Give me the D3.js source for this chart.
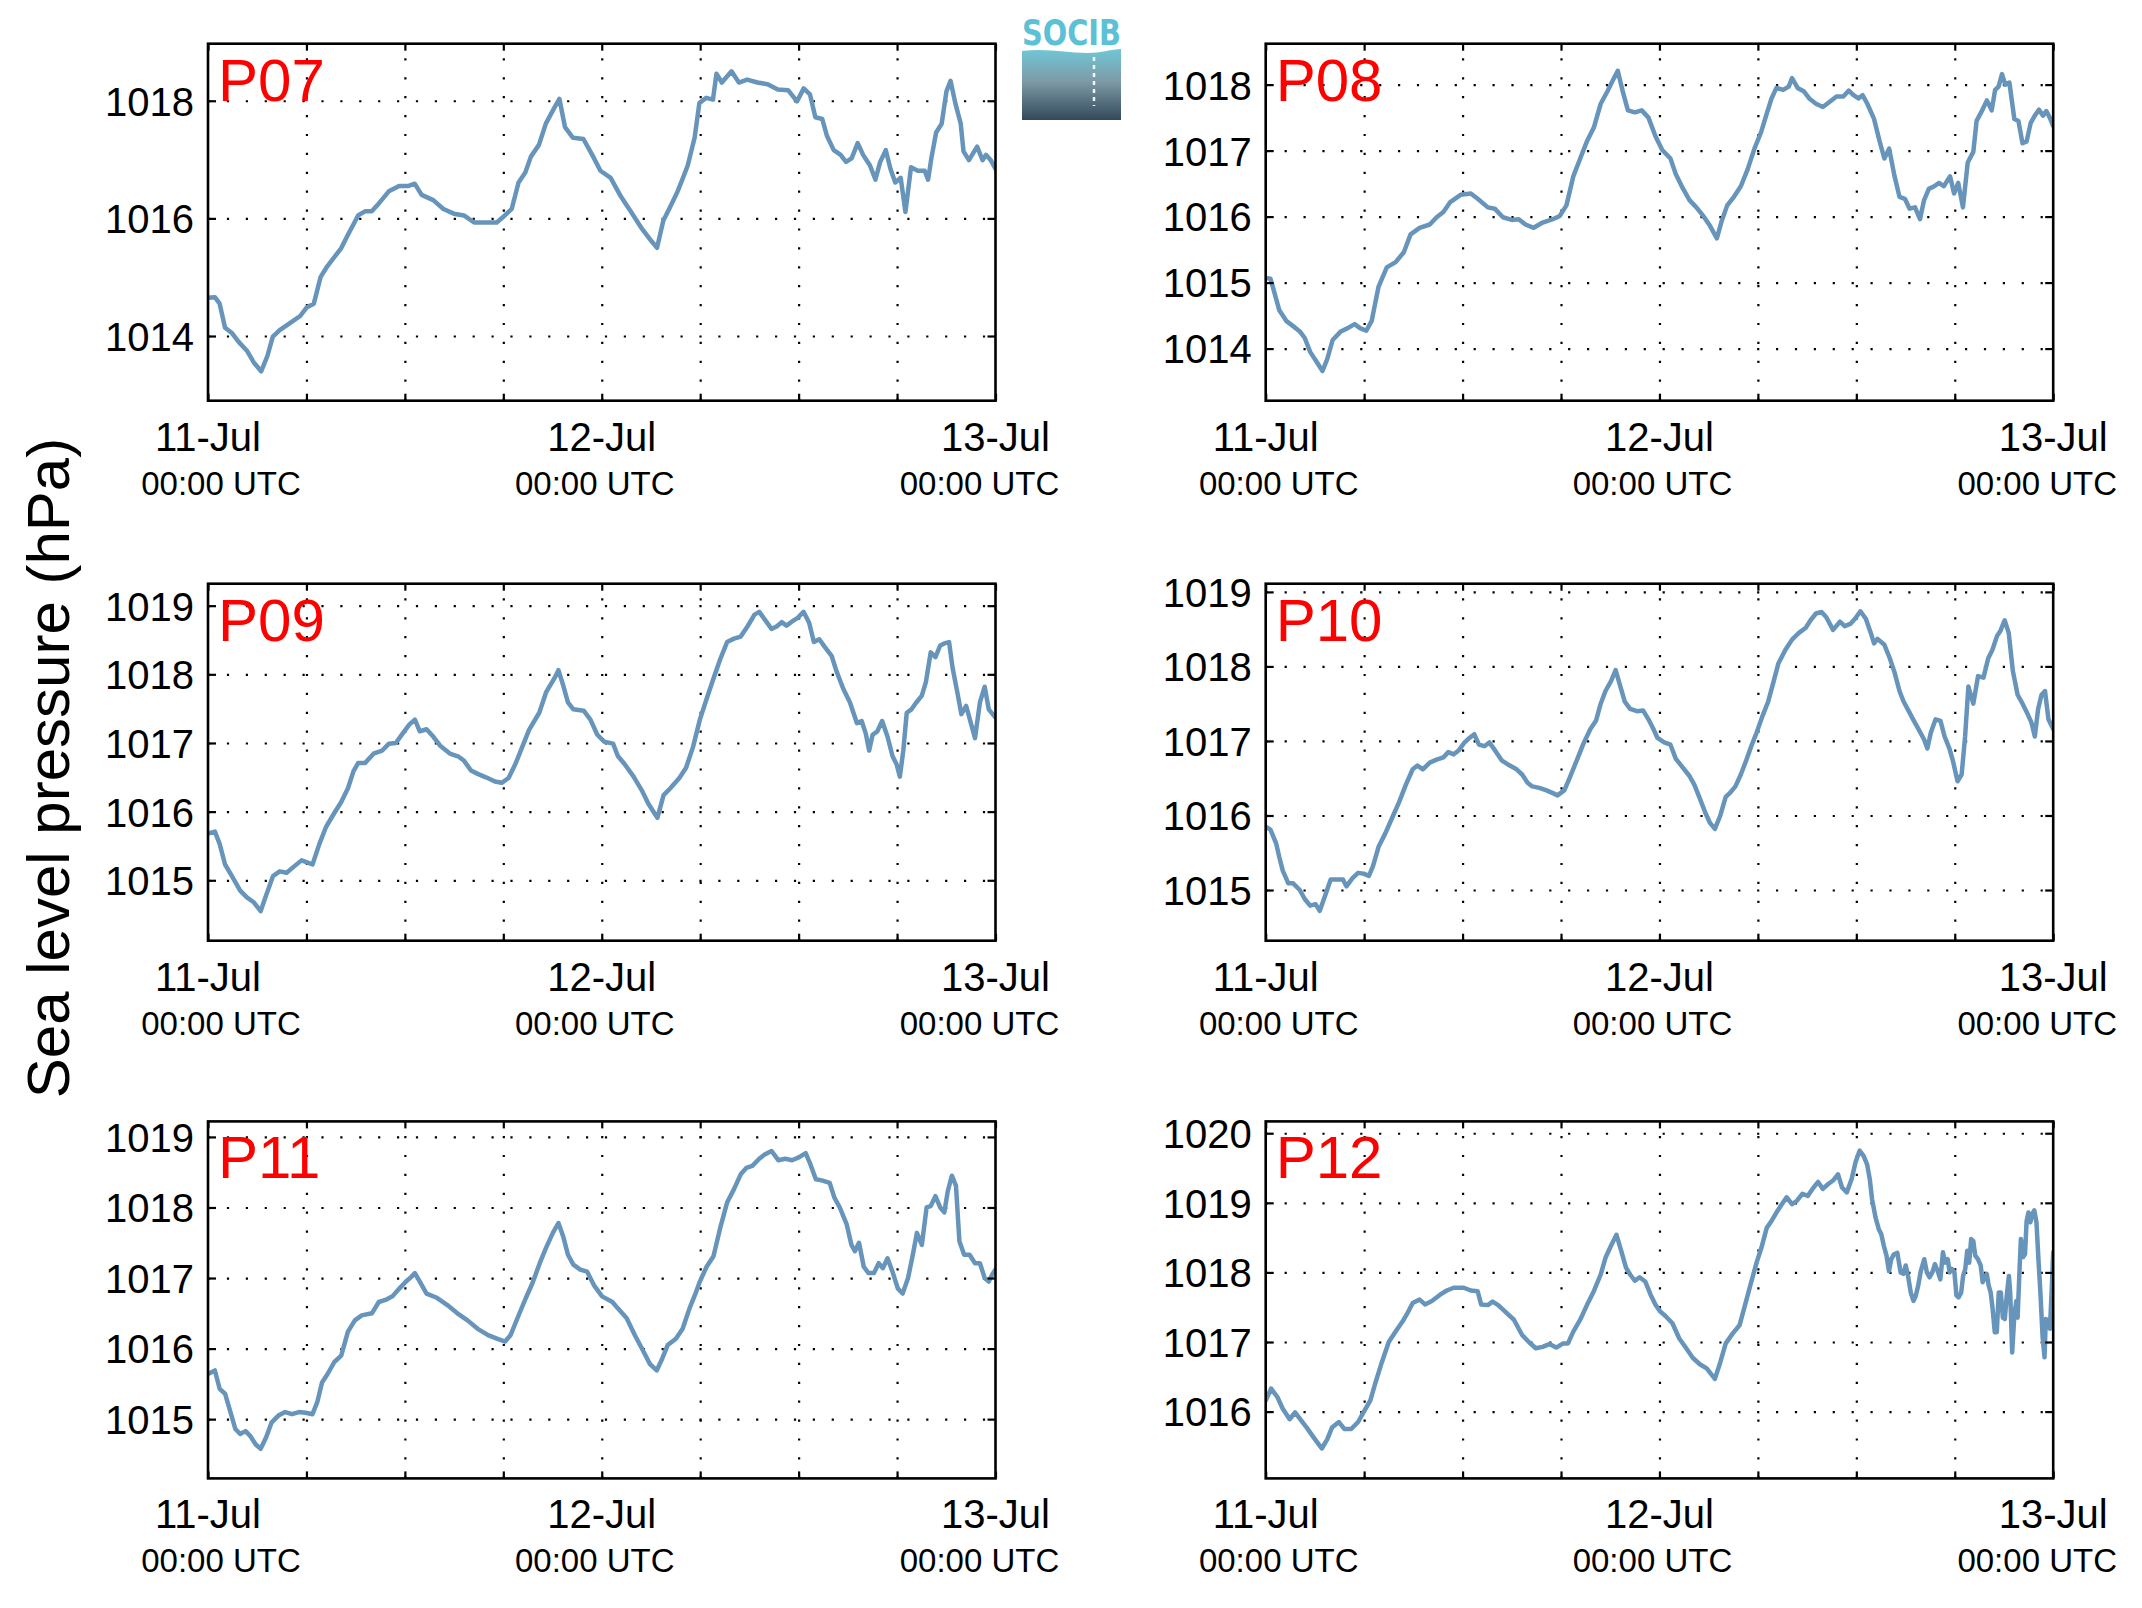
<!DOCTYPE html>
<html><head><meta charset="utf-8">
<script src="https://cdn.jsdelivr.net/npm/d3@7"></script>
<style>body{margin:0;background:#fff} svg{display:block}</style>
</head><body>
<svg id="chart" width="2142" height="1608"></svg>
<script>
// ---------------- DATA ----------------
const panelNames = ["P07","P08","P09","P10","P11","P12"];
const dayLabels = ["11-Jul","12-Jul","13-Jul"];
const dayHours = [0,24,48];
const timeLabel = "00:00 UTC";
const gridHours = [6,12,18,24,30,36,42];
const yAxisTitle = "Sea level pressure (hPa)";
const yDomains = [[1012.9,1018.97],[1013.21,1018.62],[1014.12,1019.32],[1014.32,1019.11],[1014.16,1019.22],[1015.04,1020.17]];
const yTickValues = [[1014,1016,1018],[1014,1015,1016,1017,1018],[1015,1016,1017,1018,1019],[1015,1016,1017,1018,1019],[1015,1016,1017,1018,1019],[1016,1017,1018,1019,1020]];

// [hours since 11-Jul 00:00 UTC, hPa]
const seriesP07 = [[0,1014.65],[0.42,1014.66],[0.71,1014.55],[1.04,1014.14],[1.46,1014.05],[1.87,1013.9],[2.37,1013.75],[2.79,1013.55],[3.24,1013.40],[3.62,1013.66],[3.95,1013.99],[4.37,1014.1],[4.99,1014.22],[5.62,1014.34],[6.03,1014.49],[6.45,1014.55],[6.86,1015.0],[7.28,1015.19],[7.70,1015.34],[8.11,1015.49],[8.53,1015.72],[9.15,1016.05],[9.57,1016.12],[9.98,1016.12],[10.40,1016.25],[11.02,1016.46],[11.65,1016.55],[12.19,1016.55],[12.60,1016.59],[13.02,1016.40],[13.73,1016.31],[14.35,1016.16],[14.98,1016.08],[15.60,1016.05],[16.22,1015.93],[16.85,1015.93],[17.60,1015.93],[18.09,1016.05],[18.51,1016.16],[18.93,1016.61],[19.34,1016.78],[19.68,1017.05],[20.17,1017.25],[20.59,1017.61],[21.09,1017.87],[21.42,1018.03],[21.76,1017.55],[22.25,1017.37],[22.88,1017.35],[23.42,1017.08],[23.92,1016.81],[24.54,1016.69],[25.17,1016.37],[25.79,1016.11],[26.41,1015.84],[27.04,1015.61],[27.37,1015.5],[27.75,1015.96],[28.16,1016.19],[28.58,1016.43],[28.91,1016.66],[29.24,1016.9],[29.66,1017.37],[29.95,1017.96],[30.37,1018.05],[30.78,1018.02],[30.99,1018.46],[31.32,1018.31],[31.91,1018.5],[32.36,1018.31],[32.86,1018.36],[33.49,1018.31],[34.11,1018.28],[34.73,1018.19],[35.36,1018.18],[35.90,1017.99],[36.31,1018.21],[36.69,1018.11],[37.02,1017.72],[37.44,1017.69],[37.73,1017.4],[38.14,1017.16],[38.56,1017.08],[38.89,1016.96],[39.23,1017.02],[39.60,1017.28],[39.93,1017.08],[40.35,1016.9],[40.68,1016.66],[40.97,1016.96],[41.31,1017.16],[41.60,1016.84],[41.89,1016.61],[42.22,1016.69],[42.51,1016.11],[42.85,1016.87],[43.26,1016.81],[43.68,1016.81],[43.89,1016.66],[44.09,1017.02],[44.38,1017.46],[44.72,1017.61],[45.01,1018.16],[45.26,1018.34],[45.55,1017.96],[45.88,1017.61],[46.05,1017.14],[46.38,1016.99],[46.88,1017.22],[47.21,1016.99],[47.42,1017.08],[47.71,1016.99],[48,1016.84]];

const seriesP08 = [[0,1015.07],[0.29,1015.06],[0.54,1014.84],[0.83,1014.58],[1.25,1014.42],[1.67,1014.34],[2.08,1014.26],[2.38,1014.16],[2.71,1013.95],[3.13,1013.79],[3.46,1013.66],[3.75,1013.84],[4.08,1014.13],[4.58,1014.26],[5.0,1014.31],[5.42,1014.37],[5.75,1014.31],[6.13,1014.27],[6.46,1014.42],[6.88,1014.94],[7.38,1015.23],[7.92,1015.31],[8.42,1015.46],[8.83,1015.73],[9.38,1015.83],[10.0,1015.88],[10.42,1015.99],[10.83,1016.07],[11.25,1016.22],[11.88,1016.33],[12.5,1016.35],[12.92,1016.27],[13.54,1016.14],[13.96,1016.12],[14.46,1015.99],[15.0,1015.95],[15.42,1015.96],[15.83,1015.88],[16.33,1015.83],[16.88,1015.91],[17.5,1015.96],[17.92,1016.01],[18.33,1016.17],[18.75,1016.61],[19.17,1016.88],[19.58,1017.14],[20.0,1017.35],[20.42,1017.71],[20.83,1017.90],[21.13,1018.05],[21.46,1018.21],[21.79,1017.87],[22.08,1017.61],[22.5,1017.58],[22.92,1017.61],[23.33,1017.50],[23.75,1017.22],[24.17,1017.01],[24.67,1016.88],[25.0,1016.64],[25.42,1016.43],[25.83,1016.25],[26.25,1016.14],[26.67,1016.01],[27.08,1015.86],[27.5,1015.67],[27.79,1015.93],[28.13,1016.17],[28.54,1016.30],[28.96,1016.46],[29.38,1016.72],[29.79,1017.03],[30.21,1017.29],[30.54,1017.56],[30.83,1017.79],[31.13,1017.95],[31.54,1017.92],[31.88,1017.97],[32.08,1018.10],[32.42,1017.95],[32.79,1017.90],[33.13,1017.79],[33.54,1017.71],[33.96,1017.66],[34.38,1017.74],[34.79,1017.82],[35.21,1017.82],[35.54,1017.91],[35.83,1017.84],[36.13,1017.79],[36.38,1017.84],[36.67,1017.71],[37.08,1017.48],[37.42,1017.14],[37.71,1016.88],[38.0,1017.03],[38.33,1016.61],[38.63,1016.30],[38.96,1016.27],[39.25,1016.12],[39.58,1016.14],[39.88,1015.96],[40.13,1016.25],[40.42,1016.42],[40.75,1016.46],[41.04,1016.51],[41.33,1016.46],[41.71,1016.61],[41.96,1016.35],[42.21,1016.51],[42.5,1016.14],[42.79,1016.82],[43.13,1016.98],[43.33,1017.45],[43.67,1017.61],[43.96,1017.76],[44.25,1017.61],[44.46,1017.92],[44.67,1017.97],[44.88,1018.16],[45.08,1018.00],[45.33,1018.03],[45.63,1017.48],[45.88,1017.45],[46.13,1017.11],[46.38,1017.14],[46.63,1017.42],[46.88,1017.53],[47.13,1017.62],[47.38,1017.53],[47.58,1017.60],[47.79,1017.50],[48,1017.37]];

const seriesP09 = [[0,1015.68],[0.42,1015.71],[0.71,1015.53],[1.04,1015.23],[1.46,1015.06],[1.96,1014.85],[2.37,1014.75],[2.79,1014.68],[3.21,1014.55],[3.54,1014.78],[3.96,1015.06],[4.37,1015.13],[4.79,1015.11],[5.29,1015.21],[5.70,1015.29],[6.04,1015.26],[6.37,1015.23],[6.79,1015.53],[7.20,1015.78],[7.70,1015.98],[8.12,1016.14],[8.53,1016.34],[8.87,1016.59],[9.16,1016.71],[9.58,1016.71],[10.12,1016.85],[10.62,1016.89],[11.03,1016.99],[11.45,1017.0],[11.87,1017.14],[12.28,1017.27],[12.61,1017.34],[12.91,1017.17],[13.32,1017.20],[13.74,1017.09],[14.15,1016.96],[14.78,1016.84],[15.28,1016.80],[15.61,1016.74],[16.03,1016.60],[16.44,1016.55],[16.94,1016.50],[17.49,1016.44],[17.90,1016.42],[18.32,1016.49],[18.73,1016.69],[19.15,1016.94],[19.57,1017.19],[20.19,1017.44],[20.61,1017.74],[21.11,1017.94],[21.36,1018.06],[21.65,1017.84],[21.94,1017.59],[22.27,1017.49],[22.90,1017.47],[23.31,1017.34],[23.73,1017.12],[24.15,1017.02],[24.69,1016.99],[24.98,1016.81],[25.40,1016.69],[25.94,1016.51],[26.44,1016.31],[26.85,1016.11],[27.39,1015.91],[27.77,1016.24],[28.18,1016.34],[28.73,1016.49],[29.14,1016.64],[29.56,1016.94],[29.98,1017.34],[30.39,1017.64],[30.81,1017.94],[31.22,1018.22],[31.64,1018.47],[32.06,1018.52],[32.47,1018.55],[32.89,1018.70],[33.31,1018.87],[33.60,1018.91],[33.93,1018.80],[34.35,1018.66],[34.68,1018.70],[34.97,1018.76],[35.26,1018.71],[35.60,1018.77],[35.93,1018.82],[36.30,1018.91],[36.64,1018.75],[36.93,1018.47],[37.26,1018.51],[37.59,1018.40],[38.01,1018.27],[38.30,1018.05],[38.72,1017.79],[39.13,1017.59],[39.55,1017.29],[39.84,1017.32],[40.09,1017.14],[40.30,1016.89],[40.51,1017.12],[40.80,1017.17],[41.09,1017.32],[41.42,1017.09],[41.72,1016.81],[41.97,1016.69],[42.17,1016.51],[42.38,1016.89],[42.59,1017.44],[42.88,1017.49],[43.17,1017.59],[43.51,1017.69],[43.76,1017.89],[44.05,1018.32],[44.34,1018.25],[44.63,1018.42],[44.88,1018.45],[45.17,1018.47],[45.38,1018.10],[45.67,1017.74],[45.92,1017.42],[46.21,1017.54],[46.50,1017.29],[46.75,1017.07],[47.05,1017.59],[47.34,1017.82],[47.59,1017.49],[48,1017.37]];

const seriesP10 = [[0,1015.85],[0.29,1015.81],[0.63,1015.63],[0.83,1015.44],[1.04,1015.26],[1.38,1015.09],[1.67,1015.09],[2.08,1015.0],[2.38,1014.88],[2.71,1014.79],[3.04,1014.81],[3.29,1014.72],[3.63,1014.93],[3.96,1015.14],[4.38,1015.14],[4.71,1015.14],[4.92,1015.05],[5.29,1015.16],[5.63,1015.23],[5.96,1015.22],[6.29,1015.19],[6.54,1015.32],[6.88,1015.58],[7.29,1015.76],[7.71,1015.97],[8.13,1016.18],[8.54,1016.41],[8.96,1016.62],[9.25,1016.67],[9.58,1016.62],[10.0,1016.71],[10.42,1016.75],[10.83,1016.78],[11.13,1016.85],[11.46,1016.82],[11.79,1016.88],[12.08,1016.97],[12.42,1017.04],[12.71,1017.09],[13.0,1016.95],[13.33,1016.93],[13.63,1016.98],[13.96,1016.88],[14.38,1016.74],[14.88,1016.67],[15.29,1016.62],[15.63,1016.55],[15.96,1016.44],[16.25,1016.39],[16.67,1016.37],[17.08,1016.34],[17.5,1016.30],[17.79,1016.27],[18.21,1016.34],[18.54,1016.51],[18.96,1016.74],[19.38,1016.97],[19.79,1017.16],[20.13,1017.27],[20.42,1017.50],[20.71,1017.67],[21.04,1017.80],[21.33,1017.95],[21.58,1017.76],[21.88,1017.53],[22.21,1017.43],[22.63,1017.40],[23.0,1017.41],[23.33,1017.29],[23.63,1017.16],[23.88,1017.04],[24.29,1016.98],[24.67,1016.95],[25.0,1016.76],[25.33,1016.67],[25.83,1016.53],[26.13,1016.41],[26.46,1016.23],[26.79,1016.04],[27.08,1015.90],[27.38,1015.82],[27.71,1016.0],[28.04,1016.25],[28.33,1016.31],[28.63,1016.39],[28.96,1016.55],[29.29,1016.74],[29.58,1016.92],[29.92,1017.11],[30.29,1017.34],[30.63,1017.53],[30.96,1017.80],[31.25,1018.04],[31.67,1018.22],[32.08,1018.36],[32.5,1018.45],[32.92,1018.52],[33.21,1018.62],[33.54,1018.71],[33.88,1018.73],[34.17,1018.66],[34.58,1018.49],[35.0,1018.60],[35.29,1018.54],[35.63,1018.57],[35.92,1018.64],[36.25,1018.74],[36.58,1018.64],[36.88,1018.45],[37.08,1018.31],[37.29,1018.37],[37.71,1018.29],[38.04,1018.11],[38.33,1017.92],[38.63,1017.67],[38.88,1017.53],[39.17,1017.41],[39.46,1017.29],[39.79,1017.16],[40.13,1017.02],[40.33,1016.90],[40.54,1017.11],[40.83,1017.29],[41.13,1017.27],[41.38,1017.06],[41.67,1016.90],[41.88,1016.74],[42.17,1016.46],[42.42,1016.55],[42.63,1017.06],[42.83,1017.73],[43.13,1017.50],[43.42,1017.87],[43.75,1017.85],[44.04,1018.11],[44.29,1018.22],[44.58,1018.41],[44.79,1018.48],[45.04,1018.62],[45.29,1018.45],[45.54,1017.94],[45.83,1017.62],[46.13,1017.50],[46.38,1017.39],[46.67,1017.25],[46.88,1017.06],[47.08,1017.43],[47.29,1017.62],[47.5,1017.67],[47.71,1017.29],[48,1017.16]];

const seriesP11 = [[0,1015.64],[0.42,1015.69],[0.71,1015.43],[1.04,1015.36],[1.37,1015.10],[1.67,1014.86],[1.96,1014.79],[2.29,1014.83],[2.58,1014.76],[2.91,1014.64],[3.21,1014.58],[3.54,1014.74],[3.87,1014.95],[4.29,1015.05],[4.70,1015.10],[5.12,1015.07],[5.54,1015.10],[5.95,1015.09],[6.37,1015.07],[6.66,1015.24],[6.95,1015.52],[7.29,1015.64],[7.70,1015.81],[8.12,1015.90],[8.53,1016.24],[8.95,1016.40],[9.37,1016.47],[9.99,1016.50],[10.41,1016.66],[10.82,1016.69],[11.24,1016.74],[11.66,1016.85],[12.07,1016.95],[12.41,1017.02],[12.61,1017.07],[12.91,1016.95],[13.32,1016.78],[13.95,1016.72],[14.57,1016.62],[15.20,1016.50],[15.82,1016.40],[16.44,1016.28],[17.07,1016.19],[17.61,1016.14],[18.11,1016.10],[18.44,1016.19],[18.86,1016.43],[19.36,1016.71],[19.78,1016.93],[20.27,1017.24],[20.61,1017.43],[21.02,1017.64],[21.36,1017.78],[21.65,1017.59],[21.94,1017.33],[22.27,1017.19],[22.69,1017.12],[23.11,1017.09],[23.52,1016.90],[24.02,1016.74],[24.65,1016.66],[24.98,1016.57],[25.52,1016.43],[26.02,1016.19],[26.52,1015.97],[26.94,1015.78],[27.35,1015.69],[27.69,1015.86],[28.02,1016.05],[28.52,1016.14],[28.93,1016.28],[29.35,1016.57],[29.68,1016.76],[29.98,1016.95],[30.39,1017.16],[30.81,1017.31],[31.22,1017.71],[31.64,1018.07],[32.06,1018.26],[32.47,1018.47],[32.81,1018.56],[33.18,1018.59],[33.60,1018.69],[33.93,1018.75],[34.35,1018.80],[34.76,1018.67],[35.18,1018.69],[35.60,1018.67],[36.01,1018.71],[36.43,1018.77],[36.72,1018.61],[37.05,1018.40],[37.47,1018.38],[37.89,1018.35],[38.18,1018.14],[38.51,1018.0],[38.93,1017.76],[39.22,1017.47],[39.43,1017.38],[39.68,1017.50],[39.97,1017.16],[40.26,1017.07],[40.59,1017.07],[40.88,1017.21],[41.13,1017.14],[41.42,1017.28],[41.72,1017.09],[42.05,1016.85],[42.34,1016.78],[42.67,1017.0],[42.96,1017.33],[43.21,1017.64],[43.51,1017.47],[43.80,1018.0],[44.05,1018.02],[44.34,1018.16],[44.63,1018.0],[44.88,1017.93],[45.09,1018.23],[45.34,1018.45],[45.59,1018.31],[45.80,1017.52],[46.09,1017.33],[46.42,1017.33],[46.75,1017.21],[47.05,1017.21],[47.34,1017.0],[47.59,1016.95],[47.80,1017.05],[48,1017.12]];

const seriesP12 = [[0,1016.16],[0.33,1016.33],[0.71,1016.21],[1.04,1016.04],[1.46,1015.89],[1.79,1015.99],[2.17,1015.87],[2.5,1015.77],[2.92,1015.63],[3.42,1015.47],[3.75,1015.60],[4.04,1015.77],[4.46,1015.85],[4.79,1015.75],[5.21,1015.75],[5.63,1015.85],[5.96,1015.99],[6.38,1016.16],[6.67,1016.40],[7.08,1016.71],[7.5,1017.0],[7.92,1017.15],[8.33,1017.29],[8.63,1017.41],[8.96,1017.56],[9.38,1017.61],[9.71,1017.54],[10.13,1017.59],[10.63,1017.68],[11.04,1017.74],[11.46,1017.78],[12.08,1017.78],[12.5,1017.74],[12.92,1017.73],[13.13,1017.54],[13.54,1017.53],[13.83,1017.58],[14.17,1017.53],[14.58,1017.44],[15.13,1017.32],[15.63,1017.10],[16.04,1017.0],[16.46,1016.91],[16.88,1016.93],[17.29,1016.97],[17.71,1016.92],[18.13,1016.98],[18.42,1016.98],[18.75,1017.15],[19.17,1017.32],[19.58,1017.53],[20.0,1017.73],[20.42,1017.97],[20.71,1018.21],[21.04,1018.38],[21.38,1018.54],[21.67,1018.31],[21.96,1018.07],[22.21,1017.97],[22.5,1017.88],[22.79,1017.93],[23.13,1017.87],[23.46,1017.68],[23.75,1017.54],[24.04,1017.44],[24.38,1017.37],[24.79,1017.27],[25.21,1017.05],[25.63,1016.91],[26.04,1016.77],[26.46,1016.68],[26.88,1016.62],[27.38,1016.47],[27.71,1016.71],[28.04,1016.98],[28.46,1017.12],[28.88,1017.24],[29.17,1017.49],[29.5,1017.78],[29.92,1018.14],[30.21,1018.35],[30.54,1018.64],[30.83,1018.74],[31.13,1018.86],[31.46,1018.98],[31.75,1019.08],[32.08,1018.98],[32.38,1019.03],[32.71,1019.13],[33.04,1019.10],[33.33,1019.20],[33.67,1019.30],[33.96,1019.20],[34.29,1019.27],[34.58,1019.32],[34.88,1019.41],[35.13,1019.22],[35.42,1019.15],[35.71,1019.34],[35.96,1019.59],[36.20,1019.75],[36.45,1019.67],[36.66,1019.55],[36.82,1019.34],[36.96,1019.05],[37.17,1018.79],[37.37,1018.62],[37.52,1018.55],[37.68,1018.38],[37.84,1018.24],[37.99,1018.02],[38.13,1018.19],[38.29,1018.26],[38.50,1018.28],[38.70,1018.0],[38.87,1017.98],[39.01,1018.10],[39.15,1017.95],[39.32,1017.71],[39.48,1017.59],[39.62,1017.66],[39.77,1017.81],[39.93,1018.02],[40.14,1018.19],[40.30,1018.0],[40.46,1017.93],[40.63,1018.0],[40.79,1018.12],[40.96,1018.02],[41.12,1017.90],[41.28,1018.29],[41.41,1018.14],[41.57,1018.19],[41.69,1018.0],[41.82,1018.05],[41.98,1018.0],[42.10,1017.67],[42.23,1017.64],[42.39,1017.71],[42.51,1017.95],[42.64,1018.05],[42.76,1018.31],[42.88,1018.14],[43.00,1018.48],[43.13,1018.45],[43.25,1018.24],[43.41,1018.19],[43.58,1018.10],[43.70,1017.86],[43.82,1017.93],[43.95,1017.98],[44.07,1017.81],[44.19,1017.71],[44.31,1017.47],[44.44,1017.14],[44.56,1017.14],[44.68,1017.71],[44.81,1017.71],[44.93,1017.35],[45.05,1017.33],[45.17,1017.67],[45.30,1017.95],[45.38,1017.71],[45.50,1016.85],[45.63,1017.38],[45.75,1017.59],[45.83,1017.35],[45.95,1018.05],[46.03,1018.48],[46.16,1018.22],[46.28,1018.26],[46.38,1018.74],[46.49,1018.86],[46.61,1018.72],[46.73,1018.84],[46.85,1018.89],[46.98,1018.72],[47.10,1018.19],[47.22,1017.71],[47.35,1017.09],[47.47,1016.78],[47.55,1017.33],[47.67,1017.31],[47.80,1017.19],[47.92,1017.81],[48,1018.29]];

const allSeries = [seriesP07, seriesP08, seriesP09, seriesP10, seriesP11, seriesP12];

// ---------------- DRAWING ----------------
const FONT = "'Liberation Sans', Arial, Helvetica, sans-serif";
const LINE_COLOR = "rgb(102,148,186)";
const t0 = Date.UTC(2014, 6, 11);
const toDate = h => new Date(t0 + h * 3600e3);

const svg = d3.select("#chart");
svg.append("rect").attr("width", 2142).attr("height", 1608).attr("fill", "#fff");

const colX = [208, 1265.7], rowY = [43.7, 583.7, 1121.4];
const W = 787.5, H = 357;
const subDx = [13, -7, -16];

allSeries.forEach((data, i) => {
  const col = i % 2, row = Math.floor(i / 2);
  const g = svg.append("g").attr("transform", `translate(${colX[col]},${rowY[row]})`);
  const x = d3.scaleUtc().domain([toDate(0), toDate(48)]).range([0, W]);
  const y = d3.scaleLinear().domain(yDomains[i]).range([H, 0]);

  // dotted grid (vertical)
  const gx = g.append("g").attr("transform", `translate(0,${H})`)
    .call(d3.axisBottom(x).tickValues(gridHours.map(toDate)).tickSize(-H).tickFormat(""));
  gx.select(".domain").remove();
  gx.selectAll(".tick line").attr("stroke", "#000").attr("stroke-width", 2.2)
    .attr("stroke-dasharray", "2.2,16.7");
  // dotted grid (horizontal)
  const gy = g.append("g")
    .call(d3.axisLeft(y).tickValues(yTickValues[i]).tickSize(-W).tickFormat(""));
  gy.select(".domain").remove();
  gy.selectAll(".tick line").attr("stroke", "#000").attr("stroke-width", 2.2)
    .attr("stroke-dasharray", "2.2,16.7");

  // clip + line
  const clipId = "clip" + i;
  g.append("clipPath").attr("id", clipId).append("rect").attr("width", W).attr("height", H);
  const line = d3.line().x(d => x(toDate(d[0]))).y(d => y(d[1])).curve(d3.curveLinear);
  g.append("path").datum(data).attr("clip-path", `url(#${clipId})`)
    .attr("d", line).attr("fill", "none").attr("stroke", LINE_COLOR)
    .attr("stroke-width", 4.5).attr("stroke-linejoin", "round").attr("stroke-linecap", "round");

  // inward ticks on all four sides
  const allX = gridHours.concat([0, 48]).map(toDate);
  const tickStyle = sel => { sel.select(".domain").remove(); sel.selectAll(".tick line").attr("stroke", "#000").attr("stroke-width", 2.2); };
  g.append("g").attr("transform", `translate(0,${H})`).call(d3.axisBottom(x).tickValues(allX).tickSize(-7).tickFormat("")).call(tickStyle);
  g.append("g").call(d3.axisTop(x).tickValues(allX).tickSize(-7).tickFormat("")).call(tickStyle);
  g.append("g").call(d3.axisLeft(y).tickValues(yTickValues[i]).tickSize(-8).tickFormat("")).call(tickStyle);
  g.append("g").attr("transform", `translate(${W},0)`).call(d3.axisRight(y).tickValues(yTickValues[i]).tickSize(-8).tickFormat("")).call(tickStyle);

  // y tick labels
  const yl = g.append("g").call(d3.axisLeft(y).tickValues(yTickValues[i]).tickSize(0).tickPadding(14).tickFormat(d3.format("d")));
  yl.select(".domain").remove();
  yl.selectAll("text").attr("font-family", FONT).attr("font-size", 40).attr("fill", "#000").attr("dy", "0.36em");

  // box
  g.append("rect").attr("width", W).attr("height", H).attr("fill", "none")
    .attr("stroke", "#000").attr("stroke-width", 2.6);

  // x labels
  dayLabels.forEach((lab, k) => {
    g.append("text").attr("x", x(toDate(dayHours[k]))).attr("y", H + 50)
      .attr("text-anchor", "middle").attr("font-family", FONT).attr("font-size", 40).text(lab);
    g.append("text").attr("x", x(toDate(dayHours[k])) + subDx[k]).attr("y", H + 94)
      .attr("text-anchor", "middle").attr("font-family", FONT).attr("font-size", 33).text(timeLabel);
  });

  // panel name
  g.append("text").attr("x", 10).attr("y", 57).attr("font-family", FONT)
    .attr("font-size", 60).attr("fill", "#ff0000").text(panelNames[i]);
});

// y-axis title
svg.append("text").attr("transform", "translate(69,768) rotate(-90)")
  .attr("text-anchor", "middle").attr("font-family", FONT).attr("font-size", 60)
  .attr("fill", "#000").text(yAxisTitle);

// SOCIB logo
const logo = svg.append("g").attr("transform", "translate(1022,20)");
const defs = svg.append("defs");
const grad = defs.append("linearGradient").attr("id", "logoGrad").attr("x1", 0).attr("y1", 0).attr("x2", 0).attr("y2", 1);
grad.append("stop").attr("offset", "0%").attr("stop-color", "#6fc7d6");
grad.append("stop").attr("offset", "45%").attr("stop-color", "#7e9ba8");
grad.append("stop").attr("offset", "100%").attr("stop-color", "#33495a");
logo.append("path")
  .attr("d", "M0,31 C25,28 45,33 65,33 C80,33 90,29 99,29 L99,100 L0,100 Z")
  .attr("fill", "url(#logoGrad)");
logo.append("line").attr("x1", 72).attr("x2", 72).attr("y1", 37).attr("y2", 86)
  .attr("stroke", "#fff").attr("stroke-width", 2.5).attr("stroke-dasharray", "4,4").attr("opacity", 0.9);
logo.append("text").attr("x", 0).attr("y", 25).attr("font-family", "'DejaVu Sans', sans-serif")
  .attr("font-size", 36).attr("font-weight", "bold").attr("fill", "#5cc1d4").attr("textLength", 99)
  .attr("lengthAdjust", "spacingAndGlyphs").text("SOCIB");
</script>
</body></html>
